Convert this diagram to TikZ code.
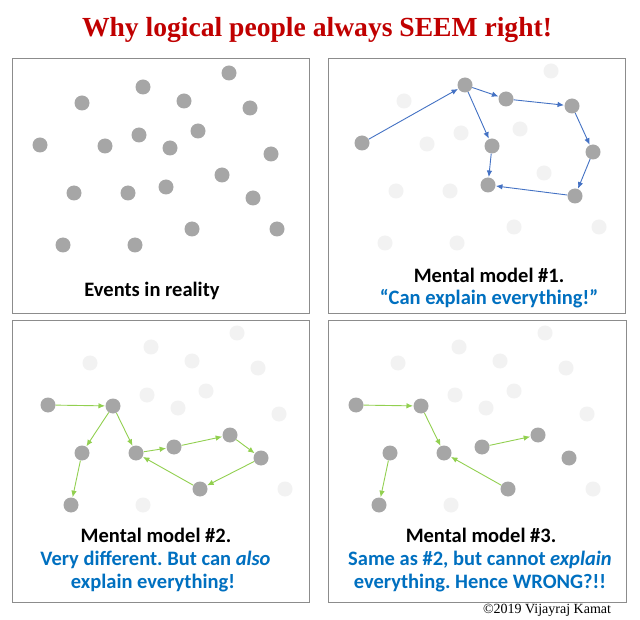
\documentclass[tikz,border=0pt]{standalone}
\usepackage{fontspec}
\setmainfont{Liberation Serif}
\newfontfamily\carlfont{Carlito}
\usetikzlibrary{arrows.meta}
\definecolor{titlered}{RGB}{192,0,0}
\definecolor{dotdark}{RGB}{166,166,166}
\definecolor{dotlight}{RGB}{242,242,242}
\definecolor{framegray}{RGB}{140,140,140}
\definecolor{txtblue}{RGB}{0,112,192}
\definecolor{arrblue}{RGB}{68,114,196}
\definecolor{arrgreen}{RGB}{146,208,80}
\tikzset{
  panel/.style={draw=framegray,line width=1pt,fill=white},
  dk/.style={circle,fill=dotdark,minimum size=15pt,inner sep=0pt},
  lt/.style={circle,fill=dotlight,minimum size=15pt,inner sep=0pt},
  barrow/.style={draw=arrblue,line width=0.9pt,-{Latex[length=6.5pt,width=5.5pt]},shorten >=0.3pt},
  garrow/.style={draw=arrgreen,line width=0.9pt,-{Latex[length=6.5pt,width=5.5pt]},shorten >=0.3pt},
  lab/.style={font=\carlfont\bfseries\fontsize{20.5}{24}\selectfont,inner sep=0pt},
}
\frenchspacing
\begin{document}
\begin{tikzpicture}[x=1pt,y=-1pt]
\useasboundingbox (0,0) rectangle (640,620);
\node[font=\bfseries\fontsize{27.6}{30}\selectfont,text=titlered,inner sep=0pt,anchor=base] (title) at (317,37) {Why logical people always SEEM right!};
% panels
\node[panel,minimum width=297pt,minimum height=255pt,inner sep=0pt] (p1) at (160.5,186.5) {};
\node[panel,minimum width=297pt,minimum height=255pt,inner sep=0pt] (p2) at (476.5,186.5) {};
\node[panel,minimum width=297pt,minimum height=281pt,inner sep=0pt] (p3) at (160.5,461.5) {};
\node[panel,minimum width=298pt,minimum height=281pt,inner sep=0pt] (p4) at (477,461.5) {};
% panel 1: all dark
\begin{scope}
\node[dk] (a1) at (229,73) {};
\node[dk] (a2) at (143,87) {};
\node[dk] (a3) at (82,103) {};
\node[dk] (a4) at (184,101) {};
\node[dk] (a5) at (250,108) {};
\node[dk] (a6) at (139,135) {};
\node[dk] (a7) at (198,131) {};
\node[dk] (a8) at (40,145) {};
\node[dk] (a9) at (105,146) {};
\node[dk] (a10) at (170,148) {};
\node[dk] (a11) at (271,154) {};
\node[dk] (a12) at (222,175) {};
\node[dk] (a13) at (74,193) {};
\node[dk] (a14) at (128,193) {};
\node[dk] (a15) at (166,187) {};
\node[dk] (a16) at (253,198) {};
\node[dk] (a17) at (192,229) {};
\node[dk] (a18) at (277,229) {};
\node[dk] (a19) at (63,245) {};
\node[dk] (a20) at (135,245) {};
\end{scope}
\node[lab] (t1) at (152,291) {Events in reality};
% panel 2
\begin{scope}[shift={(322,-2)}]
\node[lt] (b1) at (229,73) {};
\node[dk] (b2) at (143,87) {};
\node[lt] (b3) at (82,103) {};
\node[dk] (b4) at (184,101) {};
\node[dk] (b5) at (250,108) {};
\node[lt] (b6) at (139,135) {};
\node[lt] (b7) at (198,131) {};
\node[dk] (b8) at (40,145) {};
\node[lt] (b9) at (105,146) {};
\node[dk] (b10) at (170,148) {};
\node[dk] (b11) at (271,154) {};
\node[lt] (b12) at (222,175) {};
\node[lt] (b13) at (74,193) {};
\node[lt] (b14) at (128,193) {};
\node[dk] (b15) at (166,187) {};
\node[dk] (b16) at (253,198) {};
\node[lt] (b17) at (192,229) {};
\node[lt] (b18) at (277,229) {};
\node[lt] (b19) at (63,245) {};
\node[lt] (b20) at (135,245) {};
\end{scope}
\draw[barrow] (b8) -- (b2);
\draw[barrow] (b2) -- (b4);
\draw[barrow] (b4) -- (b5);
\draw[barrow] (b5) -- (b11);
\draw[barrow] (b11) -- (b16);
\draw[barrow] (b16) -- (b15);
\draw[barrow] (b2) -- (b10);
\draw[barrow] (b10) -- (b15);
\node[lab] (t2a) at (489,275) {Mental model \#1.};
\node[lab,text=txtblue] (t2b) at (489,299) {“Can explain everything!”};
% panel 3
\begin{scope}[shift={(8,260)}]
\node[lt] (c1) at (229,73) {};
\node[lt] (c2) at (143,87) {};
\node[lt] (c3) at (82,103) {};
\node[lt] (c4) at (184,101) {};
\node[lt] (c5) at (250,108) {};
\node[lt] (c6) at (139,135) {};
\node[lt] (c7) at (198,131) {};
\node[dk] (c8) at (40,145) {};
\node[dk] (c9) at (105,146) {};
\node[lt] (c10) at (170,148) {};
\node[lt] (c11) at (271,154) {};
\node[dk] (c12) at (222,175) {};
\node[dk] (c13) at (74,193) {};
\node[dk] (c14) at (128,193) {};
\node[dk] (c15) at (166,187) {};
\node[dk] (c16) at (253,198) {};
\node[dk] (c17) at (192,229) {};
\node[lt] (c18) at (277,229) {};
\node[dk] (c19) at (63,245) {};
\node[lt] (c20) at (135,245) {};
\end{scope}
\draw[garrow] (c8) -- (c9);
\draw[garrow] (c9) -- (c13);
\draw[garrow] (c13) -- (c19);
\draw[garrow] (c9) -- (c14);
\draw[garrow] (c14) -- (c15);
\draw[garrow] (c15) -- (c12);
\draw[garrow] (c12) -- (c16);
\draw[garrow] (c16) -- (c17);
\draw[garrow] (c17) -- (c14);
\node[lab] (t3a) at (156,535) {Mental model \#2.};
\node[lab,text=txtblue] (t3b) at (155.5,560) {Very different. But can \textit{also}};
\node[lab,text=txtblue] (t3c) at (153,583) {explain everything!};
% panel 4
\begin{scope}[shift={(316,260)}]
\node[lt] (d1) at (229,73) {};
\node[lt] (d2) at (143,87) {};
\node[lt] (d3) at (82,103) {};
\node[lt] (d4) at (184,101) {};
\node[lt] (d5) at (250,108) {};
\node[lt] (d6) at (139,135) {};
\node[lt] (d7) at (198,131) {};
\node[dk] (d8) at (40,145) {};
\node[dk] (d9) at (105,146) {};
\node[lt] (d10) at (170,148) {};
\node[lt] (d11) at (271,154) {};
\node[dk] (d12) at (222,175) {};
\node[dk] (d13) at (74,193) {};
\node[dk] (d14) at (128,193) {};
\node[dk] (d15) at (166,187) {};
\node[dk] (d16) at (253,198) {};
\node[dk] (d17) at (192,229) {};
\node[lt] (d18) at (277,229) {};
\node[dk] (d19) at (63,245) {};
\node[lt] (d20) at (135,245) {};
\end{scope}
\draw[garrow] (d8) -- (d9);
\draw[garrow] (d9) -- (d14);
\draw[garrow] (d13) -- (d19);
\draw[garrow] (d15) -- (d12);
\draw[garrow] (d17) -- (d14);
\node[lab] (t4a) at (481,535) {Mental model \#3.};
\node[lab,text=txtblue] (t4b) at (480,560) {Same as \#2, but cannot \textit{explain}};
\node[lab,text=txtblue] (t4c) at (480,583) {everything. Hence WRONG?!!};
\node[font=\fontsize{14}{16}\selectfont,inner sep=0pt] (copy) at (547,610) {©2019 Vijayraj Kamat};
\end{tikzpicture}
\end{document}
